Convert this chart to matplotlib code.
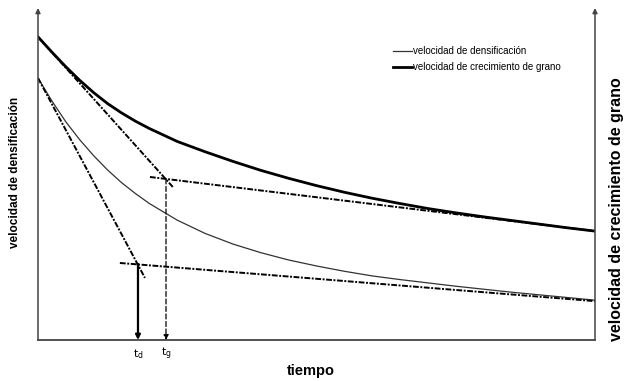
import numpy as np
import matplotlib
matplotlib.use("Agg")
import matplotlib.pyplot as plt

plt.rcParams['font.family'] = ['Liberation Sans', 'DejaVu Sans']

# curvas (tiempo 0-10, velocidad 0-10)
t_grano = [0, 0.25, 0.5, 0.75, 1.0, 1.25, 1.5, 1.75, 2.0, 2.5, 3.0, 3.5, 4.0, 4.5, 5.0, 5.5, 6.0, 6.5, 7.0, 7.5, 8.0, 8.5, 9.0, 9.5, 10.0]
v_grano = [9.13, 8.67, 8.23, 7.82, 7.45, 7.12, 6.84, 6.59, 6.37, 5.98, 5.67, 5.38, 5.11, 4.87, 4.65, 4.45, 4.27, 4.11, 3.96, 3.83, 3.71, 3.60, 3.49, 3.38, 3.28]

t_dens = [0, 0.25, 0.5, 0.75, 1.0, 1.25, 1.5, 1.75, 2.0, 2.5, 3.0, 3.5, 4.0, 4.5, 5.0, 5.5, 6.0, 6.5, 7.0, 7.5, 8.0, 8.5, 9.0, 9.5, 10.0]
v_dens = [7.89, 7.20, 6.57, 6.03, 5.55, 5.12, 4.74, 4.41, 4.11, 3.61, 3.21, 2.89, 2.63, 2.41, 2.23, 2.07, 1.93, 1.82, 1.72, 1.62, 1.53, 1.44, 1.36, 1.28, 1.20]

# tangentes iniciales y asintotas
tang_dens_t = [0, 1.92]
tang_dens_v = [7.89, 1.87]
asin_dens_t = [1.47, 10.0]
asin_dens_v = [2.32, 1.17]

tang_grano_t = [0, 2.42]
tang_grano_v = [9.13, 4.61]
asin_grano_t = [2.01, 10.0]
asin_grano_v = [4.91, 3.28]

# puntos de corte
td, td_v = 1.795, 2.29
tg, tg_v = 2.298, 4.85

lab_dens = "velocidad de densificación"
lab_grano = "velocidad de crecimiento de grano"

fig = plt.figure(figsize=(6.25, 3.81), dpi=100)
ax = fig.add_axes([38/625, 41/381, 557/625, 332/381])
ax.set_xlim(0, 10)
ax.set_ylim(0, 10)
ax.axis('off')

ax.plot(t_dens, v_dens, color='#333333', lw=0.9, label=lab_dens)
ax.plot(t_grano, v_grano, color='black', lw=2.0, label=lab_grano)

dash = (3, 0.8, 1, 0.8)
for tt, vv in [(tang_dens_t, tang_dens_v), (asin_dens_t, asin_dens_v),
               (tang_grano_t, tang_grano_v), (asin_grano_t, asin_grano_v)]:
    ax.plot(tt, vv, color='black', lw=1.4, dashes=dash)

# lineas verticales con flecha
ax.annotate('', xy=(td, 0), xytext=(td, td_v),
            arrowprops=dict(arrowstyle='-|>', lw=1.6, color='black',
                            mutation_scale=7, shrinkA=0, shrinkB=0))
ax.annotate('', xy=(tg, 0), xytext=(tg, tg_v),
            arrowprops=dict(arrowstyle='-|>', lw=0.9, color='black', linestyle=(0, (4, 2)),
                            mutation_scale=7, shrinkA=0, shrinkB=0))

ax.annotate(r'$\mathrm{t_d}$', xy=(td, 0), xytext=(0, -10), textcoords='offset points',
            ha='center', va='center', fontsize=8)
ax.annotate(r'$\mathrm{t_g}$', xy=(tg, 0), xytext=(0, -10), textcoords='offset points',
            ha='center', va='center', fontsize=8)

# ejes
axcol = '#444444'
for xa in (0, 10):
    ax.annotate('', xy=(xa, 10), xytext=(xa, 0), annotation_clip=False,
                arrowprops=dict(arrowstyle='-|>', lw=1.1, color=axcol,
                                mutation_scale=7, shrinkA=0, shrinkB=0))
ax.plot([0, 10], [0, 0], color=axcol, lw=1.3, clip_on=False)

fig.text(0.5 * (287 + 335) / 625, 1 - 371/381, "tiempo", ha='center', va='center',
         fontsize=10.5, fontweight='bold')
fig.text(15/625, 1 - 172/381, lab_dens, rotation=90, ha='center', va='center',
         fontsize=8.5, fontweight='bold')
fig.text(617/625, 1 - 209/381, lab_grano, rotation=90, ha='center', va='center',
         fontsize=11.5, fontweight='bold')

ax.legend(loc='upper left', bbox_to_anchor=(393/625, 1 - 46/381), bbox_transform=fig.transFigure,
          frameon=False, fontsize=7, handlelength=2.0, handletextpad=0.1,
          labelspacing=0.65, borderpad=0, borderaxespad=0)

fig.savefig("out.png", dpi=100)
